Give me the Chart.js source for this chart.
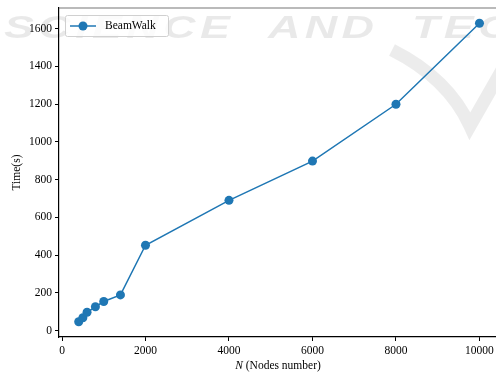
<!DOCTYPE html>
<html>
<head>
<meta charset="utf-8">
<script src="https://cdn.jsdelivr.net/npm/chart.js@4/dist/chart.umd.min.js"></script>
<style>
  html, body { margin:0; padding:0; background:#fff; overflow:hidden; }
  #wrap { width:496px; height:374px; overflow:hidden; }
</style>
</head>
<body>
<div id="wrap"><canvas id="line" width="501" height="374"></canvas></div>
<script>
const nodes = [400, 500, 600, 800, 1000, 1400, 2000, 4000, 6000, 8000, 10000];
const times = [47, 68, 97, 126, 154, 189, 452, 690, 898, 1199, 1628];
const xTicks = [0, 2000, 4000, 6000, 8000, 10000];
const yTicks = [0, 200, 400, 600, 800, 1000, 1200, 1400, 1600];
const seriesName = 'BeamWalk';
const blue = '#1f77b4';
const serif = '"Liberation Serif", "DejaVu Serif", serif';

// faint publisher watermark behind the plot
const watermark = {
  id: 'watermark',
  beforeDraw(chart){
    const c = chart.ctx;
    c.save();
    c.fillStyle = 'rgba(0,0,0,0.085)';
    c.strokeStyle = 'rgba(0,0,0,0.075)';
    c.lineWidth = 13;
    c.lineCap = 'butt';
    c.beginPath();
    c.moveTo(392, 50);
    c.quadraticCurveTo(448, 78, 470, 126);
    c.lineTo(502, 70);
    c.stroke();
    c.font = 'italic bold 31px "Liberation Sans", Arial, sans-serif';
    c.textBaseline = 'middle';
    if ('letterSpacing' in c) c.letterSpacing = '3px';
    c.translate(4, 29);
    c.scale(1.45, 1);
    c.fillText('SCIENCE  AND  TECHNOLOGY', 0, 0);
    c.restore();
  }
};

// top frame line, legend box and x title with italic N
const extras = {
  id: 'extras',
  afterDraw(chart){
    const c = chart.ctx, a = chart.chartArea;
    c.save();
    c.strokeStyle = '#777';
    c.lineWidth = 1.2;
    c.beginPath(); c.moveTo(a.left, a.top); c.lineTo(chart.width, a.top); c.stroke();

    // legend
    const lx = a.left + 6, ly = a.top + 7, lw = 103, lh = 21;
    c.fillStyle = 'rgba(255,255,255,0.8)';
    c.strokeStyle = '#d0d0d0';
    c.lineWidth = 1;
    c.beginPath();
    c.roundRect(lx + 0.5, ly + 0.5, lw, lh, 2);
    c.fill(); c.stroke();
    const my = ly + lh / 2 + 0.5;
    c.strokeStyle = blue; c.lineWidth = 1.5;
    c.beginPath(); c.moveTo(lx + 5, my); c.lineTo(lx + 31, my); c.stroke();
    c.fillStyle = blue;
    c.beginPath(); c.arc(lx + 18, my, 4.5, 0, Math.PI * 2); c.fill();
    c.fillStyle = '#000';
    c.font = '11.5px ' + serif;
    c.textBaseline = 'middle';
    c.fillText(chart.data.datasets[0].label, lx + 40, my);

    // x title
    const ty = 366;
    c.font = 'italic 11.5px ' + serif;
    const wN = c.measureText('N').width;
    c.font = '11.5px ' + serif;
    const rest = ' (Nodes number)';
    const wR = c.measureText(rest).width;
    const sx = 278 - (wN + wR) / 2;
    c.font = 'italic 11.5px ' + serif;
    c.fillText('N', sx, ty);
    c.font = '11.5px ' + serif;
    c.fillText(rest, sx + wN, ty);
    c.restore();
  }
};

new Chart(document.getElementById('line'), {
  type: 'line',
  data: {
    datasets: [{
      label: seriesName,
      data: nodes.map((n, i) => ({ x: n, y: times[i] })),
      borderColor: blue,
      backgroundColor: blue,
      borderWidth: 1.5,
      pointRadius: 4.5,
      pointHoverRadius: 4.5,
      pointBorderWidth: 0,
      tension: 0,
      fill: false
    }]
  },
  options: {
    responsive: false,
    animation: false,
    layout: { padding: { top: 8, right: 0, bottom: 0, left: 0 } },
    plugins: { legend: { display: false }, tooltip: { enabled: false } },
    scales: {
      x: {
        type: 'linear',
        min: -72, max: 10408,
        afterBuildTicks: s => { s.ticks = xTicks.map(v => ({ value: v })); },
        afterFit: s => { s.height = 37; s.paddingLeft = 0; s.paddingRight = 0; },
        grid: { drawOnChartArea: false, drawTicks: true, tickLength: 4, tickColor: '#000' },
        border: { color: '#000', width: 1.2 },
        ticks: { color: '#000', padding: 3, maxRotation: 0, callback: v => String(v), font: { family: serif, size: 11.5 } }
      },
      y: {
        type: 'linear',
        min: -34, max: 1709,
        afterBuildTicks: s => { s.ticks = yTicks.map(v => ({ value: v })); },
        afterFit: s => { s.width = 59; s.paddingTop = 0; s.paddingBottom = 0; },
        grid: { drawOnChartArea: false, drawTicks: true, tickLength: 4, tickColor: '#000' },
        border: { color: '#000', width: 1.2 },
        ticks: { color: '#000', padding: 3, callback: v => String(v), font: { family: serif, size: 11.5 } },
        title: { display: true, text: 'Time(s)', color: '#000', padding: { top: 10, bottom: 0 }, font: { family: serif, size: 11.5 } }
      }
    }
  },
  plugins: [watermark, extras]
});
</script>
</body>
</html>
